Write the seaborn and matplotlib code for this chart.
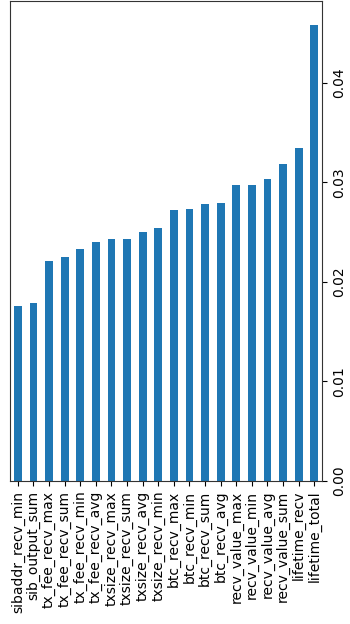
import matplotlib
matplotlib.use("Agg")
import matplotlib.pyplot as plt
import seaborn as sns
import pandas as pd

features = [
    "sibaddr_recv_min", "sib_output_sum", "tx_fee_recv_max", "tx_fee_recv_sum",
    "tx_fee_recv_min", "tx_fee_recv_avg", "txsize_recv_max", "txsize_recv_sum",
    "txsize_recv_avg", "txsize_recv_min", "btc_recv_max", "btc_recv_min",
    "btc_recv_sum", "btc_recv_avg", "recv_value_max", "recv_value_min",
    "recv_value_avg", "recv_value_sum", "lifetime_recv", "lifetime_total",
]
importance = [
    0.0176, 0.0179, 0.0221, 0.0225, 0.0233, 0.0240, 0.0243, 0.0243,
    0.0250, 0.0254, 0.0272, 0.0273, 0.0278, 0.0279, 0.0297, 0.0297,
    0.0303, 0.0318, 0.0334, 0.0458,
]

df = pd.DataFrame({"feature": features, "importance": importance})

fig = plt.figure(figsize=(3.5, 6.24), dpi=100)
ax = fig.add_axes([10 / 350, 1 - 481 / 624, 312 / 350, 480 / 624])

sns.barplot(data=df, x="feature", y="importance", color="#1f77b4",
            saturation=1, width=0.5, ax=ax)

ax.set_xlim(-0.5, len(features) - 0.5)
ax.set_ylim(0, 0.0482)
ax.set_xlabel("")
ax.set_ylabel("")
ax.yaxis.tick_right()
ax.set_yticks([0.0, 0.01, 0.02, 0.03, 0.04])
ax.set_yticklabels(["0.00", "0.01", "0.02", "0.03", "0.04"], rotation=90,
                   va="center", fontsize=10)
ax.tick_params(axis="x", labelrotation=90, labelsize=10)
for spine in ax.spines.values():
    spine.set_color("#333333")

fig.savefig("out.png", dpi=100)
